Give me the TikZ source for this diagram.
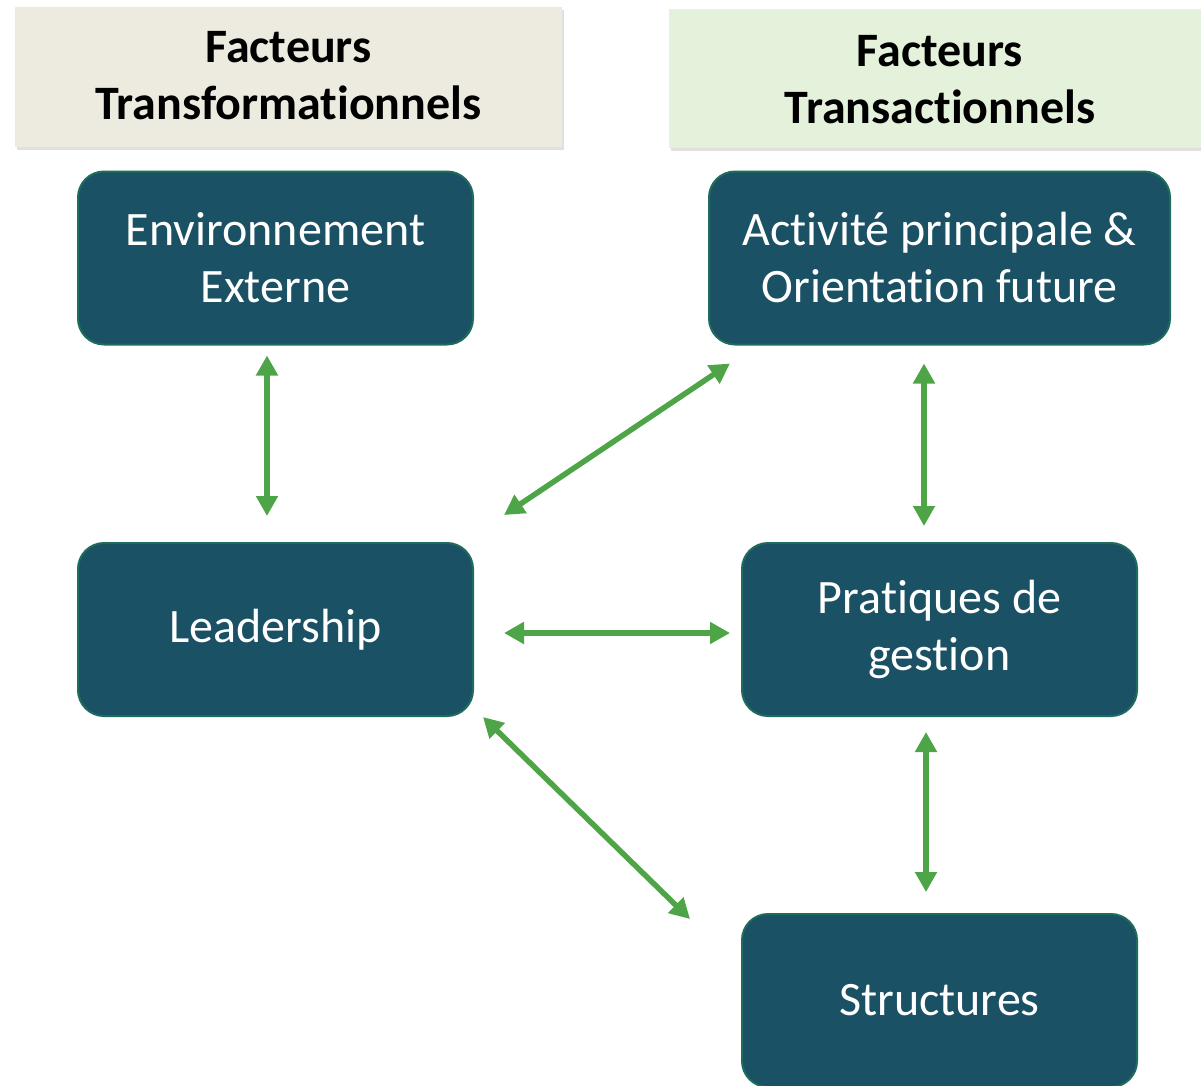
\documentclass[tikz,border=0pt]{standalone}
\usepackage{fontspec}
\setmainfont{Carlito}[Ligatures=NoCommon]
\usepackage{tikz}
\usetikzlibrary{arrows.meta, calc}
\definecolor{deep}{RGB}{27, 81, 100}
\definecolor{rim}{RGB}{30, 108, 92}
\definecolor{leaf}{RGB}{78, 165, 72}
\definecolor{sand}{RGB}{237, 235, 224}
\definecolor{mint}{RGB}{228, 241, 219}

\begin{document}
\begin{tikzpicture}[x=1pt, y=-1pt,
    head/.style={inner sep=0pt, align=center, font=\fontsize{48}{57}\selectfont\bfseries},
    block/.style={draw=rim, line width=2pt, fill=deep, rounded corners=26pt,
      text=white, align=center, inner sep=0pt, minimum height=173pt,
      font=\fontsize{48}{57}\selectfont},
    link/.style={leaf, line width=5.5pt, {Triangle[length=20pt,width=21pt]}-{Triangle[length=20pt,width=21pt]}}]

  \useasboundingbox (0, 0) rectangle (1201, 1085);

  \fill[black!12] (17, 10) rectangle (564, 150);
  \fill[sand] (15, 7) rectangle (562, 147);
  \node[head] (transfo) at (288.5, 76) {Facteurs\\Transformationnels};

  \fill[black!12] (671, 12) rectangle (1203, 151);
  \fill[mint] (669, 9) rectangle (1201, 148);
  \node[head] (transac) at (940, 80) {Facteurs\\Transactionnels};

  \node[block, minimum width=395pt] (env) at (275.5, 258) {Environnement\\Externe};
  \node[block, minimum width=461pt] (act) at (939.5, 258) {Activité principale \&\\Orientation future};
  \node[block, minimum width=395pt] (lead) at (275.5, 629.5) {Leadership};
  \node[block, minimum width=395pt] (prat) at (939.5, 629.5) {Pratiques de\\gestion};
  \node[block, minimum width=395pt] (struct) at (939.5, 1000.5) {Structures};

  \draw[link] ([shift={(-8.5, 10)}]env.south) -- ([shift={(-8.5, -26)}]lead.north);
  \draw[link] ([shift={(30, -27)}]lead.north east) -- ([shift={(22, 18)}]act.south west);
  \draw[link] ([shift={(-15.5, 18)}]act.south) -- ([shift={(-15.5, -16)}]prat.north);
  \draw[link] ([shift={(30, 3.5)}]lead.east) -- ([shift={(-11, 3.5)}]prat.west);
  \draw[link] ([shift={(9, 0)}]lead.south east) -- ([shift={(-51, 6)}]struct.north west);
  \draw[link] ([shift={(-13.5, 15)}]prat.south) -- ([shift={(-13.5, -21)}]struct.north);

\end{tikzpicture}
\end{document}
